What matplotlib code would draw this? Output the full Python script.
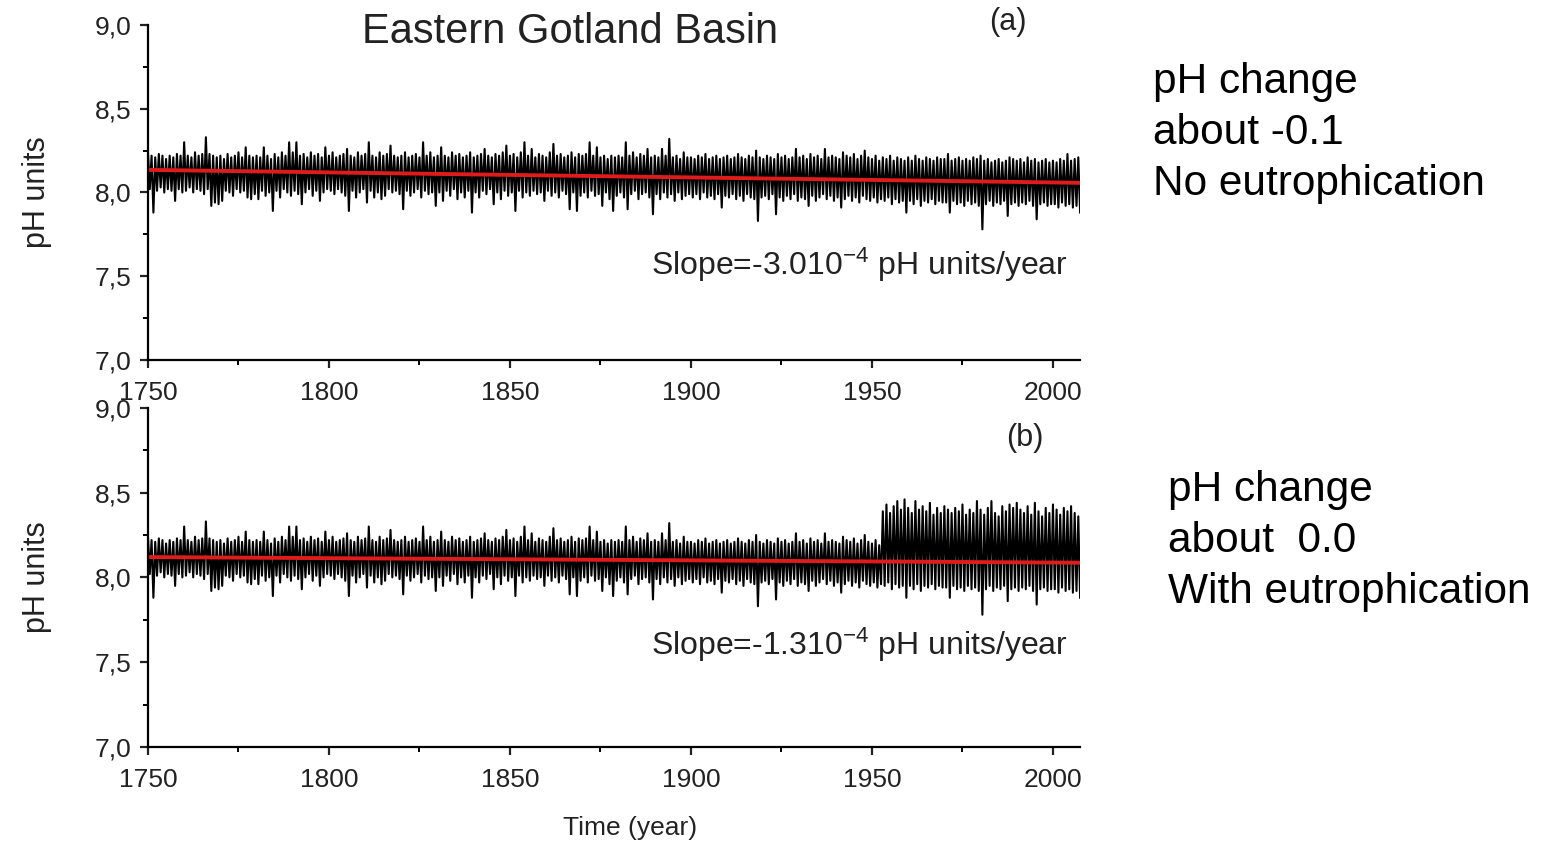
import numpy as np
import matplotlib.pyplot as plt
from matplotlib.ticker import MultipleLocator, FuncFormatter

plt.rcParams['font.family'] = ['Liberation Sans', 'DejaVu Sans']
plt.rcParams['mathtext.fontset'] = 'custom'
plt.rcParams['mathtext.rm'] = 'Liberation Sans'
plt.rcParams['mathtext.default'] = 'regular'

# Annual values 1750-2007 (seasonal maximum / minimum)
years = np.arange(1750, 2008)

high_a = [
    8.24, 8.22, 8.21, 8.23, 8.22, 8.20, 8.22, 8.21, 8.23, 8.22,
    8.30, 8.22, 8.21, 8.24, 8.22, 8.23, 8.33, 8.23, 8.22, 8.21,
    8.22, 8.20, 8.23, 8.21, 8.22, 8.24, 8.21, 8.27, 8.22, 8.21,
    8.22, 8.21, 8.27, 8.22, 8.20, 8.23, 8.21, 8.24, 8.22, 8.30,
    8.24, 8.30, 8.22, 8.23, 8.21, 8.24, 8.22, 8.23, 8.21, 8.27,
    8.22, 8.24, 8.21, 8.22, 8.23, 8.26, 8.22, 8.21, 8.24, 8.22,
    8.23, 8.30, 8.22, 8.21, 8.24, 8.22, 8.23, 8.28, 8.22, 8.21,
    8.22, 8.24, 8.21, 8.22, 8.23, 8.21, 8.30, 8.22, 8.24, 8.21,
    8.22, 8.27, 8.22, 8.21, 8.24, 8.22, 8.23, 8.21, 8.22, 8.24,
    8.21, 8.22, 8.23, 8.26, 8.22, 8.21, 8.23, 8.22, 8.24, 8.28,
    8.22, 8.23, 8.21, 8.24, 8.30, 8.22, 8.26, 8.21, 8.23, 8.22,
    8.21, 8.24, 8.29, 8.22, 8.23, 8.21, 8.22, 8.24, 8.21, 8.23,
    8.22, 8.23, 8.30, 8.22, 8.27, 8.21, 8.22, 8.20, 8.22, 8.21,
    8.22, 8.21, 8.30, 8.22, 8.24, 8.21, 8.23, 8.22, 8.26, 8.21,
    8.22, 8.21, 8.26, 8.22, 8.32, 8.21, 8.22, 8.20, 8.24, 8.21,
    8.21, 8.20, 8.22, 8.21, 8.23, 8.20, 8.21, 8.22, 8.20, 8.21,
    8.22, 8.20, 8.21, 8.23, 8.21, 8.20, 8.22, 8.21, 8.25, 8.21,
    8.20, 8.22, 8.21, 8.20, 8.23, 8.21, 8.22, 8.20, 8.21, 8.26,
    8.21, 8.22, 8.20, 8.23, 8.21, 8.22, 8.20, 8.26, 8.21, 8.22,
    8.21, 8.20, 8.24, 8.22, 8.21, 8.23, 8.20, 8.22, 8.25, 8.21,
    8.20, 8.22, 8.19, 8.21, 8.20, 8.22, 8.19, 8.21, 8.20, 8.19,
    8.21, 8.19, 8.22, 8.20, 8.19, 8.21, 8.20, 8.19, 8.21, 8.20,
    8.20, 8.23, 8.19, 8.20, 8.21, 8.19, 8.20, 8.19, 8.21, 8.20,
    8.22, 8.19, 8.20, 8.18, 8.19, 8.20, 8.18, 8.19, 8.21, 8.20,
    8.19, 8.20, 8.18, 8.21, 8.19, 8.20, 8.18, 8.19, 8.20, 8.18,
    8.19, 8.18, 8.20, 8.19, 8.23, 8.19, 8.20, 8.21,
]

low_a = [
    8.02, 7.88, 8.01, 8.03, 8.00, 8.02, 8.01, 7.95, 8.02, 8.00,
    8.01, 8.03, 8.00, 8.02, 8.01, 7.99, 8.02, 7.92, 7.94, 7.93,
    7.95, 8.01, 8.00, 7.98, 8.02, 8.00, 8.01, 7.97, 7.96, 7.99,
    7.96, 8.01, 7.98, 8.00, 7.89, 8.01, 7.97, 8.02, 8.00, 7.98,
    8.01, 7.99, 7.93, 8.00, 8.02, 7.98, 8.01, 7.95, 8.00, 8.02,
    8.01, 7.99, 8.02, 8.00, 7.98, 7.89, 8.01, 7.97, 8.00, 8.02,
    7.94, 8.01, 7.97, 8.00, 7.96, 7.98, 8.02, 8.00, 8.01, 7.99,
    7.90, 8.01, 7.98, 8.00, 8.02, 7.97, 8.01, 7.99, 8.00, 7.92,
    8.00, 7.95, 8.01, 7.98, 8.02, 7.96, 8.00, 7.97, 8.01, 7.88,
    8.00, 7.97, 8.01, 7.99, 8.02, 7.93, 8.00, 7.96, 8.01, 7.98,
    8.00, 7.89, 8.01, 7.97, 8.00, 7.98, 8.01, 7.99, 8.00, 7.95,
    8.01, 7.98, 8.00, 7.97, 8.01, 7.99, 7.90, 8.00, 7.89, 7.98,
    8.00, 7.97, 8.01, 7.98, 7.99, 7.92, 8.00, 7.96, 7.89, 7.98,
    8.00, 7.97, 7.90, 7.99, 8.01, 7.96, 7.99, 8.00, 7.97, 7.87,
    7.99, 7.96, 8.00, 7.97, 7.99, 7.95, 8.00, 7.96, 7.98, 7.99,
    7.97, 7.99, 7.96, 8.00, 7.97, 7.98, 7.96, 7.99, 7.91, 7.98,
    7.97, 7.99, 7.96, 7.98, 7.95, 7.99, 7.97, 7.96, 7.83, 7.97,
    7.98, 7.96, 7.99, 7.87, 7.97, 7.95, 7.98, 7.96, 7.99, 7.95,
    7.97, 7.96, 7.92, 7.98, 7.95, 7.97, 7.99, 7.96, 7.98, 7.95,
    7.97, 7.91, 7.96, 7.98, 7.95, 7.97, 7.94, 7.98, 7.96, 7.95,
    7.97, 7.94, 7.96, 7.95, 7.97, 7.93, 7.96, 7.94, 7.95, 7.88,
    7.95, 7.93, 7.96, 7.92, 7.95, 7.94, 7.96, 7.93, 7.95, 7.94,
    7.94, 7.88, 7.95, 7.93, 7.94, 7.92, 7.95, 7.93, 7.94, 7.92,
    7.78, 7.93, 7.95, 7.92, 7.94, 7.93, 7.95, 7.86, 7.93, 7.94,
    7.92, 7.94, 7.93, 7.95, 7.92, 7.84, 7.93, 7.94, 7.92, 7.93,
    7.93, 7.91, 7.94, 7.92, 7.93, 7.91, 7.92, 7.88,
]

# With eutrophication: seasonal maxima rise from 1953 on
eutro_start = 1953
high_b_late = [
    8.39, 8.43, 8.38, 8.42, 8.45, 8.40, 8.46,
    8.41, 8.38, 8.45, 8.40, 8.42, 8.39, 8.44, 8.37, 8.41, 8.38,
    8.42, 8.40, 8.38, 8.41, 8.39, 8.43, 8.37, 8.40, 8.38, 8.45,
    8.40, 8.37, 8.41, 8.45, 8.38, 8.36, 8.42, 8.39, 8.43, 8.41,
    8.44, 8.40, 8.38, 8.42, 8.37, 8.44, 8.39, 8.36, 8.41, 8.38,
    8.43, 8.40, 8.37, 8.41, 8.39, 8.42, 8.38, 8.36,
]
n_early = eutro_start - 1750
high_b = high_a[:n_early] + high_b_late
low_b = low_a

# Linear fits (value in 1750, slope per year)
fit_a = (8.135, -3.0e-4)
fit_b = (8.120, -1.3e-4)


def seasonal(high, low):
    x = np.column_stack((years, years + 0.5)).ravel()
    y = np.column_stack((high, low)).ravel()
    return x, y


def style_axis(ax):
    ax.set_xlim(1750, 2007.5)
    ax.set_ylim(7.0, 9.0)
    ax.spines['top'].set_visible(False)
    ax.spines['right'].set_visible(False)
    for s in ['left', 'bottom']:
        ax.spines[s].set_linewidth(1.6)
    ax.xaxis.set_major_locator(MultipleLocator(50))
    ax.xaxis.set_minor_locator(MultipleLocator(25))
    ax.yaxis.set_major_locator(MultipleLocator(0.5))
    ax.yaxis.set_minor_locator(MultipleLocator(0.25))
    ax.yaxis.set_major_formatter(FuncFormatter(lambda v, p: f"{v:.1f}".replace(".", ",")))
    ax.tick_params(which='major', direction='out', length=6, width=1.6, labelsize=19, colors='#222222')
    ax.tick_params(axis='x', which='major', pad=9)
    ax.tick_params(axis='y', which='major', pad=6)
    ax.tick_params(which='minor', direction='out', length=3.5, width=1.4)
    ax.set_ylabel("pH units", fontsize=22, color='#222222')
    ax.yaxis.set_label_coords(-0.103, 0.5)


fig = plt.figure(figsize=(15.51, 8.48), dpi=100)
ax_a = fig.add_axes([0.0954, 0.5755, 0.601, 0.395])
ax_b = fig.add_axes([0.0954, 0.1191, 0.601, 0.400])

panels = [
    (ax_a, high_a, low_a, fit_a, "(a)", 1987.5, 9.02, "Slope=-3.010$^{-4}$ pH units/year", 7.57),
    (ax_b, high_b, low_b, fit_b, "(b)", 1992.3, 8.82, "Slope=-1.310$^{-4}$ pH units/year", 7.60),
]
for ax, hi, lo, fit, tag, tag_x, tag_y, slope_txt, slope_y in panels:
    x, y = seasonal(hi, lo)
    ax.plot(x, y, color='black', linewidth=1.5)
    ax.plot(years, fit[0] + fit[1] * (years - 1750), color='#e01b1b', linewidth=2.8)
    style_axis(ax)
    ax.text(tag_x, tag_y, tag, fontsize=22, ha='center', va='center', color='#222222')
    ax.text(1889, slope_y, slope_txt, fontsize=23, ha='left', va='center', color='#222222')

fig.text(630 / 1551, 1 - 828 / 848, "Time (year)", fontsize=19, ha='center', va='center', color='#222222')
fig.text(0.3675, 0.962, "Eastern Gotland Basin", fontsize=30, ha='center', va='center', color='#222222')

right_a = ["pH change", "about -0.1", "No eutrophication"]
right_b = ["pH change", "about  0.0", "With eutrophication"]
for i, line in enumerate(right_a):
    fig.text(1153 / 1551, 1 - (82 + 51 * i) / 848, line, fontsize=30.5, ha='left', va='center')
for i, line in enumerate(right_b):
    fig.text(1168 / 1551, 1 - (490 + 51 * i) / 848, line, fontsize=30.5, ha='left', va='center')

fig.savefig("out.png", dpi=100)
